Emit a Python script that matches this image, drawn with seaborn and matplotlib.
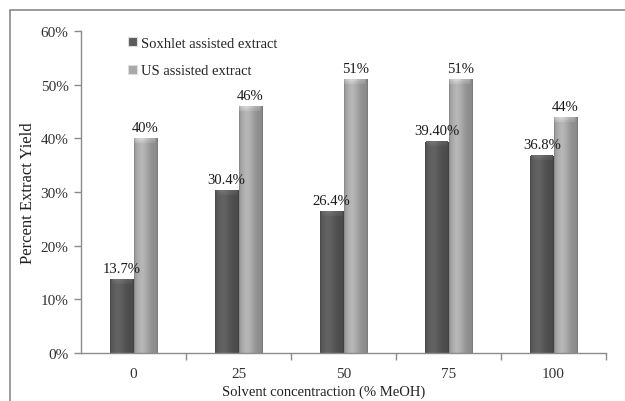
import numpy as np
import pandas as pd
import matplotlib
matplotlib.use("Agg")
import matplotlib.pyplot as plt
from matplotlib.patches import Rectangle
from matplotlib.colors import to_rgb
import seaborn as sns

# Extraction yields (%) by methanol concentration
concentrations = ["0", "25", "50", "75", "100"]
soxhlet_yield = [13.7, 30.4, 26.4, 39.4, 36.8]
us_yield = [40, 46, 51, 51, 44]
soxhlet_labels = ["13.7%", "30.4%", "26.4%", "39.40%", "36.8%"]
us_labels = ["40%", "46%", "51%", "51%", "44%"]
series_names = ["Soxhlet assisted extract", "US assisted extract"]
y_ticks = [0, 10, 20, 30, 40, 50, 60]

df = pd.DataFrame({
    "conc": concentrations * 2,
    "yield": soxhlet_yield + us_yield,
    "method": [series_names[0]] * 5 + [series_names[1]] * 5,
})

sns.set_theme(style="white")
plt.rcParams["font.family"] = ["Liberation Serif", "DejaVu Serif"]

W, H = 625, 402
fig = plt.figure(figsize=(W / 100, H / 100), dpi=100)
ax = fig.add_axes([81 / W, 1 - 354 / H, 525 / W, (354 - 32) / H])

colors = {series_names[0]: "#5b5b5b", series_names[1]: "#a9a9a9"}
sns.barplot(data=df, x="conc", y="yield", hue="method", order=concentrations,
            hue_order=series_names, palette=colors, width=0.45, saturation=1,
            ax=ax, legend=False, linewidth=0)

ax.set_ylim(0, 60)
ax.set_xlim(-0.5, 4.5)

# cylinder-like shading on each bar
def shade_bar(patch, base):
    x0, y0 = patch.get_x(), patch.get_y()
    w, h = patch.get_width(), patch.get_height()
    t = np.linspace(0, 1, 64)
    prof = 0.82 + 0.26 * np.exp(-((t - 0.33) / 0.32) ** 2)
    prof[:3] *= 0.88
    prof[-3:] *= 0.88
    rgb = np.clip(np.array(to_rgb(base))[None, :] * prof[:, None], 0, 1)
    img = np.tile(rgb[None, :, :], (2, 1, 1))
    im = ax.imshow(img, extent=(x0, x0 + w, y0, y0 + h), aspect="auto",
                   origin="lower", zorder=patch.get_zorder() + 0.1,
                   interpolation="bilinear")
    im.set_clip_path(patch)
    # small lighter cap at the top of the bar
    cap_h = 0.9
    cap = np.clip(np.array(to_rgb(base))[None, :] * (prof[:, None] + 0.18), 0, 1)
    cap_img = np.stack([cap * 0.92, cap], axis=0)
    ax.imshow(cap_img, extent=(x0 + w * 0.04, x0 + w * 0.96, y0 + h - cap_h, y0 + h),
              aspect="auto", origin="lower", zorder=patch.get_zorder() + 0.2,
              interpolation="bilinear")

for container, name in zip(ax.containers, series_names):
    for p in container.patches:
        shade_bar(p, colors[name])

# value labels
for container, labels in zip(ax.containers, [soxhlet_labels, us_labels]):
    ax.bar_label(container, labels=labels, padding=3, fontsize=10.5, color="#1a1a1a")

ax.set_xlim(-0.5, 4.5)
ax.set_ylim(0, 60)

# axes styling
for s in ["top", "right"]:
    ax.spines[s].set_visible(False)
for s in ["left", "bottom"]:
    ax.spines[s].set_color("#8c8c8c")
    ax.spines[s].set_linewidth(1.0)

ax.set_yticks(y_ticks)
ax.set_yticklabels([f"{v}%" for v in y_ticks], fontsize=11, color="#333333")
ax.tick_params(axis="y", which="major", left=True, length=5, width=1,
               color="#8c8c8c", pad=4)
ax.set_xticks(range(len(concentrations)))
ax.set_xticklabels(concentrations, fontsize=11, color="#333333")
ax.tick_params(axis="x", which="major", bottom=False, length=0, pad=10)
ax.set_xticks(np.arange(0.5, 5, 1.0), minor=True)
ax.tick_params(axis="x", which="minor", bottom=True, length=5, width=1,
               color="#8c8c8c")

ax.set_ylabel("Percent Extract Yield", fontsize=12, color="#222222")
ax.yaxis.set_label_coords((36 - 81) / 525, 0.5)
ax.set_xlabel("Solvent concentraction (% MeOH)", fontsize=10.5, color="#222222")
ax.xaxis.set_label_coords((324 - 81) / 525, -(386 - 354) / 322)

# legend
handles = [Rectangle((0, 0), 1, 1, facecolor=colors[n], edgecolor="#dddddd",
                     linewidth=0.8) for n in series_names]
fig.legend(handles, series_names, loc="upper left",
           bbox_to_anchor=(122 / W, 1 - 32 / H), frameon=False,
           fontsize=10.5, handlelength=0.6, handleheight=0.6,
           handletextpad=0.3, labelspacing=1.0, borderaxespad=0)

# outer chart frame
fig.patches.append(Rectangle((10 / W, -0.05), 1.0, 1 - 11 / H + 0.05,
                             transform=fig.transFigure, fill=False,
                             edgecolor="#8a8a8a", linewidth=1.2))

fig.savefig("out.png", dpi=100)
